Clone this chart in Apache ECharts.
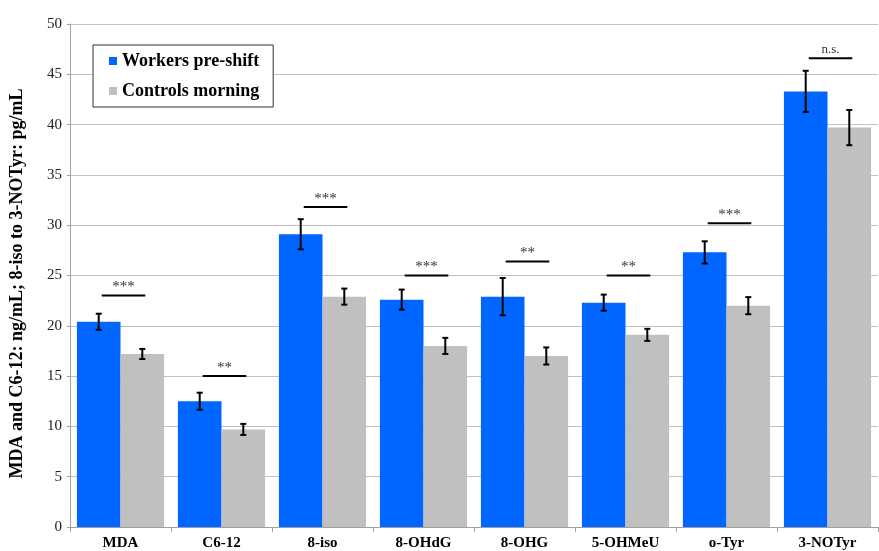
<!DOCTYPE html>
<html><head><meta charset="utf-8">
<script src="https://cdn.jsdelivr.net/npm/echarts@6/dist/echarts.min.js"></script>
<style>html,body{margin:0;padding:0;background:#fff}#c{width:879px;height:551px}</style>
</head><body><div id="c"></div>
<script>
const categories = ['MDA','C6-12','8-iso','8-OHdG','8-OHG','5-OHMeU','o-Tyr','3-NOTyr'];
const workers = [20.4, 12.5, 29.1, 22.6, 22.9, 22.3, 27.3, 43.3];
const workersErr = [0.8, 0.85, 1.5, 1.0, 1.85, 0.8, 1.1, 2.05];
const controls = [17.2, 9.7, 22.9, 18.0, 17.0, 19.1, 22.0, 39.7];
const controlsErr = [0.5, 0.55, 0.8, 0.8, 0.85, 0.6, 0.85, 1.75];
const sigY = [23.0, 15.0, 31.8, 25.0, 26.4, 25.0, 30.2, 46.6];
const sigLabel = ['***','**','***','***','**','**','***','n.s.'];
const yTicks = [0,5,10,15,20,25,30,35,40,45,50];

const serif = '"Liberation Serif","Times New Roman",serif';
const catGap = 0.137;
function barW(api){ return api.size([1,0])[0]*(1-catGap)/2; }

function errRender(which){
  return function(params, api){
    const i = api.value(0), v = api.value(1), e = api.value(2);
    const bw = barW(api);
    const off = which === 0 ? -bw/2 : bw/2;
    const top = api.coord([i, v+e]), bot = api.coord([i, v-e]);
    const x = top[0] + off, cap = 3;
    const st = {stroke:'#000', lineWidth:2};
    return {type:'group', children:[
      {type:'line', shape:{x1:x,y1:top[1],x2:x,y2:bot[1]}, style:st},
      {type:'line', shape:{x1:x-cap,y1:top[1],x2:x+cap,y2:top[1]}, style:st},
      {type:'line', shape:{x1:x-cap,y1:bot[1],x2:x+cap,y2:bot[1]}, style:st}
    ]};
  };
}
function sigRender(params, api){
  const i = api.value(0), y = api.value(1);
  const bw = barW(api);
  const p = api.coord([i, y]);
  const x1 = p[0]-bw/2+3, x2 = p[0]+bw/2+3;
  const label = sigLabel[params.dataIndex];
  const ns = label === 'n.s.';
  return {type:'group', children:[
    {type:'line', shape:{x1:x1,y1:p[1],x2:x2,y2:p[1]}, style:{stroke:'#000', lineWidth:2}},
    {type:'text', style:{text:label, x:(x1+x2)/2, y:p[1]-(ns?2:1), align:'center', verticalAlign:'bottom',
      font: (ns?'13px ':'15px ')+serif, fill:'#333'}}
  ]};
}

const chart = echarts.init(document.getElementById('c'));
chart.setOption({
  animation:false,
  grid:{left:69, right:1, top:24, bottom:24},
  legend:{
    left:93, top:45, orient:'vertical', itemGap:12, itemWidth:8, itemHeight:8,
    padding:[7,14,7,16],
    borderColor:'#333', borderWidth:1, backgroundColor:'#fff',
    textStyle:{fontFamily:serif, fontWeight:'bold', fontSize:18, color:'#000'},
    data:[{name:'Workers pre-shift', icon:'rect'},{name:'Controls morning', icon:'rect'}]
  },
  xAxis:{
    type:'category', data:categories,
    axisLine:{lineStyle:{color:'#a0a0a0'}},
    axisTick:{show:true, length:5, lineStyle:{color:'#a0a0a0'}},
    axisLabel:{fontFamily:serif, fontWeight:'bold', fontSize:15, color:'#000', margin:9}
  },
  yAxis:{
    type:'value', min:0, max:50, interval:5,
    name:'MDA and C6-12: ng/mL; 8-iso to 3-NOTyr: pg/mL',
    nameLocation:'middle', nameGap:44,
    nameTextStyle:{fontFamily:serif, fontWeight:'bold', fontSize:18, color:'#000', padding:[0,16,0,0]},
    axisLine:{show:true, lineStyle:{color:'#a0a0a0'}},
    axisTick:{show:true, length:3, lineStyle:{color:'#a0a0a0'}},
    axisLabel:{fontFamily:serif, fontSize:15, color:'#222', margin:8,
      formatter: v => yTicks.includes(v) ? String(v) : ''},
    splitLine:{lineStyle:{color:'#c0c0c0', width:1}}
  },
  series:[
    {name:'Workers pre-shift', type:'bar', data:workers, barGap:'0%', barCategoryGap:(catGap*100)+'%',
      itemStyle:{color:'#0066ff'}, z:2},
    {name:'Controls morning', type:'bar', data:controls, barGap:'0%', barCategoryGap:(catGap*100)+'%',
      itemStyle:{color:'#c0c0c0'}, z:2},
    {type:'custom', renderItem:errRender(0), data:workers.map((v,i)=>[i,v,workersErr[i]]), z:5, silent:true},
    {type:'custom', renderItem:errRender(1), data:controls.map((v,i)=>[i,v,controlsErr[i]]), z:5, silent:true},
    {type:'custom', renderItem:sigRender, data:sigY.map((v,i)=>[i,v]), z:5, silent:true}
  ]
});
</script></body></html>
